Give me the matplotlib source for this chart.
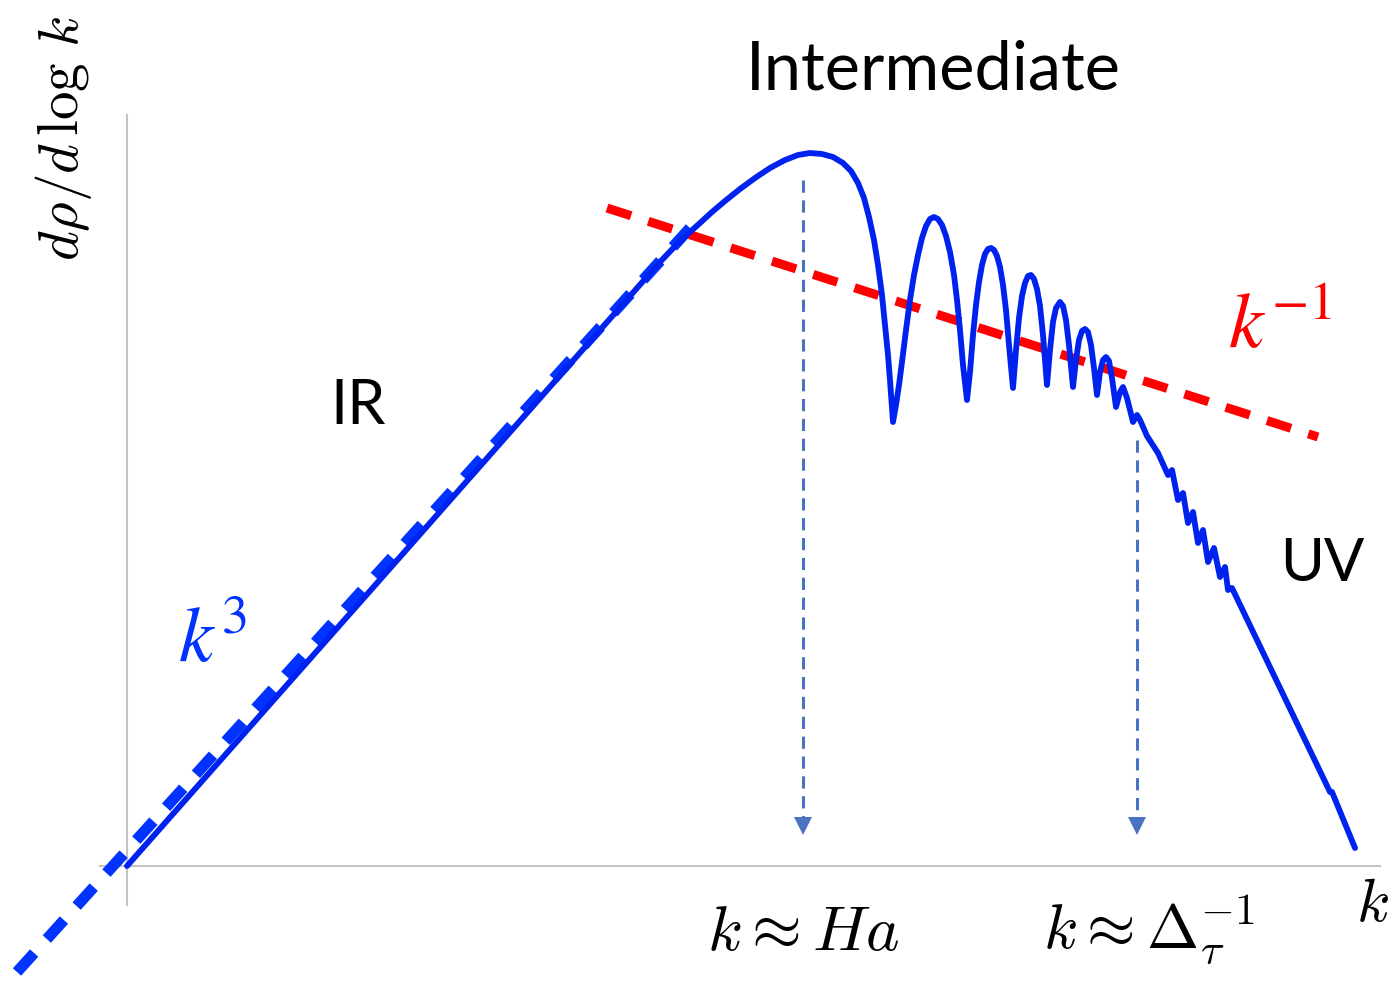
import matplotlib

matplotlib.use("Agg")

import matplotlib.pyplot as plt  # noqa: E402

plt.rcParams["mathtext.fontset"] = "cm"

# schematic spectrum (x right, y down)
curve_x = [127, 400, 660, 680, 690, 700, 712, 725, 740, 755, 770, 785, 798, 810,
           822, 833, 843, 851, 858, 864, 869, 874, 878, 882, 885, 888, 890, 893,
           896, 899, 902, 906, 910, 914, 918, 922, 926, 930, 934, 938, 942, 946,
           950, 954, 957, 960, 963, 967,
           970, 973, 976, 979, 982, 985, 988, 991, 994, 997, 1000, 1003, 1006, 1009, 1013,
           1016, 1019, 1022, 1025, 1028, 1031, 1034, 1037, 1040, 1043, 1047,
           1050, 1053, 1056, 1060, 1063, 1066, 1069, 1073,
           1076, 1079, 1082, 1085, 1088, 1091, 1094, 1097,
           1100, 1103, 1106, 1109, 1112, 1116,
           1120, 1123, 1127, 1133, 1137, 1140, 1147, 1158, 1168, 1172, 1178, 1183,
           1188, 1193, 1198, 1203, 1208, 1214, 1220, 1225, 1228, 1232, 1330, 1332, 1355]
curve_y = [866, 557, 262, 241, 232, 223, 212, 201, 189, 178, 168, 160, 155, 153,
           154, 157, 163, 171, 183, 198, 217, 240, 265, 295, 325, 355, 380, 422,
           405, 385, 362, 330, 300, 275, 255, 238, 226, 219, 217, 219, 225, 236,
           252, 275, 300, 330, 365, 400,
           372, 335, 305, 282, 265, 254, 249, 248, 250, 256, 267, 285, 310, 345, 388,
           350, 318, 296, 283, 276, 275, 279, 289, 306, 335, 385,
           350, 322, 308, 302, 306, 320, 345, 387,
           360, 340, 331, 329, 332, 345, 368, 395,
           372, 360, 357, 361, 378, 407,
           392, 387, 398, 422, 415, 420, 436, 453, 475, 470, 500, 493,
           523, 512, 543, 530, 562, 548, 577, 567, 590, 588, 792, 792, 848]

ir_fit_x = [17, 690]
ir_fit_y = [972, 228]
mid_fit_x = [607, 1318]
mid_fit_y = [208, 437]

marks_x = [803, 1137]
marks_top = [180, 440]
mark_bottom = 826

fig = plt.figure(figsize=(13.94, 9.84), dpi=100)
ax = fig.add_axes([0, 0, 1, 1])
ax.set_xlim(0, 1394)
ax.set_ylim(984, 0)
ax.axis("off")

grey = "#c4c4c4"
ax.plot([127, 127], [115, 905], color=grey, lw=1.5)
ax.plot([100, 1380], [866, 866], color=grey, lw=1.5)

ax.plot(ir_fit_x, ir_fit_y, color="#0033ff", lw=8, dashes=(2.3, 1.7), zorder=3)
ax.plot(mid_fit_x, mid_fit_y, color="#ff0000", lw=6.5, dashes=(2.8, 2.0), zorder=3)
ax.plot(curve_x, curve_y, color="#0022ee", lw=4.2, solid_joinstyle="round",
        solid_capstyle="round", zorder=4)

arrow_c = "#4a72c0"
for mx, top in zip(marks_x, marks_top):
    ax.plot([mx, mx], [top, mark_bottom - 6], color=arrow_c, lw=2.2, dashes=(4, 2.5))
    ax.plot([mx], [mark_bottom], marker="v", color=arrow_c, ms=13, mew=0)

ax.text(63, 138, r"$d\rho/d\,\log\,k$", rotation=90, ha="center", va="center",
        fontsize=41)
ax.text(933, 70, "Intermediate", ha="center", va="center", fontsize=48,
        family="Lato")
ax.text(358, 407, "IR", ha="center", va="center", fontsize=44, family="Lato")
ax.text(1322, 564, "UV", ha="center", va="center", fontsize=43, family="Lato")
ax.text(212, 640, r"$k^3$", color="#0033ff", ha="center", va="center", fontsize=56,
        math_fontfamily="stix")
ax.text(1280, 326, r"$k^{-1}$", color="#ff0000", ha="center", va="center",
        fontsize=56, math_fontfamily="stix")
ax.text(803, 932, r"$k \approx Ha$", ha="center", va="center", fontsize=46)
ax.text(1149, 930, r"$k \approx \Delta_\tau^{-1}$", ha="center", va="center",
        fontsize=45)
ax.text(1372, 905, r"$k$", ha="center", va="center", fontsize=44)

fig.savefig("out.png", dpi=100)
